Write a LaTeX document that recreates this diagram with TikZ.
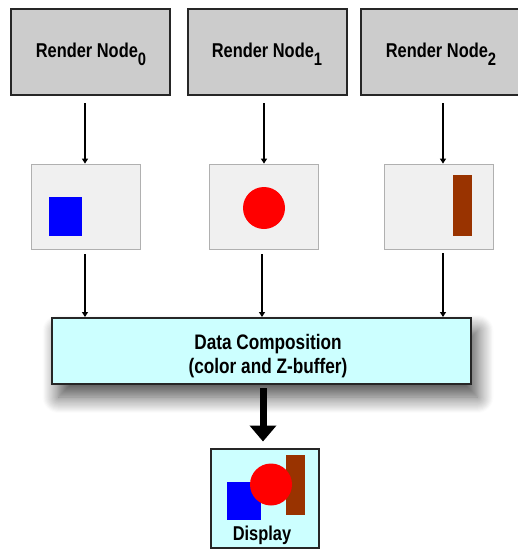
\documentclass[tikz,border=0pt]{standalone}
\usepackage{fontspec}
\setmainfont{Liberation Sans}
\usetikzlibrary{shadows.blur,arrows.meta}
\definecolor{topgray}{HTML}{CCCCCC}
\definecolor{midfill}{HTML}{F0F0F0}
\definecolor{midedge}{HTML}{B0B0B0}
\definecolor{cyanfill}{HTML}{CCFFFF}
\definecolor{brownbar}{HTML}{993300}
\newcommand{\narrow}[1]{\scalebox{0.82}[1]{#1}}
\newcommand{\subsc}[1]{\raisebox{-8pt}{\fontsize{18}{18}\selectfont #1}}
\tikzset{
  topbox/.style={draw=black!85, line width=2pt, fill=topgray, minimum width=159pt, minimum height=86pt, inner sep=0pt, font=\bfseries\fontsize{21}{24}\selectfont},
  midbox/.style={draw=midedge, line width=1.8pt, fill=midfill, minimum width=109pt, minimum height=85pt, inner sep=0pt},
  compbox/.style={draw=black!85, line width=2pt, fill=cyanfill, minimum width=419pt, minimum height=66pt, inner sep=0pt,
    blur shadow={shadow xshift=7pt, shadow yshift=-13pt, shadow blur radius=16pt, shadow blur steps=16, shadow opacity=70}},
  complbl/.style={inner sep=0pt, align=center, font=\bfseries\fontsize{21}{23.5}\selectfont},
  dispbox/.style={draw=black!85, line width=2pt, fill=cyanfill, minimum width=108pt, minimum height=99pt, inner sep=0pt},
  thinarrow/.style={line width=1.3pt, -{Triangle[length=5pt,width=6pt]}},
  thickarrow/.style={line width=7pt, -{Triangle[length=16pt,width=26pt]}},
  lbl/.style={font=\bfseries\fontsize{20}{22}\selectfont, inner sep=0pt, anchor=base}
}
\begin{document}
\begin{tikzpicture}[x=1pt,y=-1pt]
\useasboundingbox (0,0) rectangle (518,549);
% top boxes
\node[topbox] (r0) at (90.5,52) {};
\node[topbox] (r1) at (267,52) {};
\node[topbox] (r2) at (440,52) {};
\node[lbl] (t0) at (91,57) {\narrow{Render Node\subsc{0}}};
\node[lbl] (t1) at (267,57) {\narrow{Render Node\subsc{1}}};
\node[lbl] (t2) at (441,57) {\narrow{Render Node\subsc{2}}};
% middle boxes
\node[midbox] (m0) at (86,207) {};
\node[midbox] (m1) at (264,207) {};
\node[midbox] (m2) at (439,207) {};
\fill[blue] (49,197) rectangle (82,236);
\fill[red] (264,208) circle (21);
\fill[brownbar] (453,175) rectangle (472,236);
% composition
\node[compbox] (c) at (261,351) {};
\node[complbl] (ct) at (268,356) {\narrow{Data Composition}\\\narrow{(color and Z-buffer)}};
% display
\node[dispbox] (d) at (264.5,498) {};
\fill[blue] (227,481.5) rectangle (260.5,520);
\fill[brownbar] (286,455) rectangle (305,515);
\fill[red] (271,484.5) circle (21);
\node[lbl] (dl) at (262,540) {\narrow{Display}};
% coordinates for arrows
\coordinate (a0s) at (85,103);
\coordinate (a1s) at (264,103);
\coordinate (a2s) at (443,103);
\coordinate (b0s) at (85,254);
\coordinate (b1s) at (262,254);
\coordinate (b2s) at (443,253);
\draw[thinarrow] (a0s) -- (a0s |- m0.north);
\draw[thinarrow] (a1s) -- (a1s |- m1.north);
\draw[thinarrow] (a2s) -- (a2s |- m2.north);
\draw[thinarrow] (b0s) -- (b0s |- c.north);
\draw[thinarrow] (b1s) -- (b1s |- c.north);
\draw[thinarrow] (b2s) -- (b2s |- c.north);
\coordinate (ts) at (263,388);
\draw[thickarrow] (ts) -- ([yshift=6pt]ts |- d.north);
\end{tikzpicture}
\end{document}
